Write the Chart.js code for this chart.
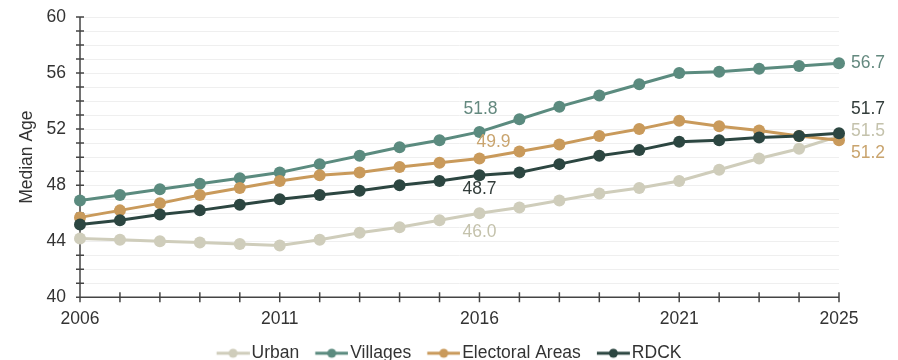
<!DOCTYPE html>
<html>
<head>
<meta charset="utf-8">
<script src="https://cdn.jsdelivr.net/npm/chart.js@4/dist/chart.umd.min.js"></script>
<style>
html, body { margin: 0; padding: 0; background: #fff; overflow: hidden; }
</style>
</head>
<body>
<canvas id="c" width="898" height="372"></canvas>
<script>
const years = ['2006','2007','2008','2009','2010','2011','2012','2013','2014','2015',
               '2016','2017','2018','2019','2020','2021','2022','2023','2024','2025'];
const shownYears = ['2006','2011','2016','2021','2025'];
const urban     = [44.2,44.1,44.0,43.9,43.8,43.7,44.1,44.6,45.0,45.5,46.0,46.4,46.9,47.4,47.8,48.3,49.1,49.9,50.6,51.5];
const villages  = [46.9,47.3,47.7,48.1,48.5,48.9,49.5,50.1,50.7,51.2,51.8,52.7,53.6,54.4,55.2,56.0,56.1,56.3,56.5,56.7];
const electoral = [45.7,46.2,46.7,47.3,47.8,48.3,48.7,48.9,49.3,49.6,49.9,50.4,50.9,51.5,52.0,52.6,52.2,51.9,51.5,51.2];
const rdck      = [45.2,45.5,45.9,46.2,46.6,47.0,47.3,47.6,48.0,48.3,48.7,48.9,49.5,50.1,50.5,51.1,51.2,51.4,51.5,51.7];

const colors = { urban: '#cfcdbb', villages: '#5b8b7f', electoral: '#c99a5b', rdck: '#2c4641' };
const labelColors = ['#c4c2ac', '#64897f', '#c9a46e', '#333d3b'];

Chart.defaults.font.family = '"Liberation Sans", Arial, sans-serif';
Chart.defaults.font.size = 17.5;
Chart.defaults.color = '#333';

// petite icone ligne + point pour la légende
function legendIcon(color) {
    const c = document.createElement('canvas');
    c.width = 40; c.height = 12;
    const g = c.getContext('2d');
    g.strokeStyle = color; g.lineWidth = 3;
    g.beginPath(); g.moveTo(6.9, 6); g.lineTo(39.9, 6); g.stroke();
    g.fillStyle = color;
    g.beginPath(); g.arc(23.4, 6, 4.5, 0, Math.PI * 2); g.fill();
    return c;
}

function series(label, data, color, order) {
    return {
        label, data, order,
        borderColor: color, backgroundColor: color,
        borderWidth: 3, pointRadius: 6, pointHoverRadius: 6,
        pointBorderWidth: 0, pointBackgroundColor: color, tension: 0
    };
}

const datasets = [
    series('Urban', urban, colors.urban, 3),
    series('Villages', villages, colors.villages, 2),
    series('Electoral Areas', electoral, colors.electoral, 1),
    series('RDCK', rdck, colors.rdck, 0)
];
const icons = datasets.map(d => legendIcon(d.borderColor));

// étiquettes de valeurs (dataset, index, décalage)
const labelSpecs = [
    { ds: 1, i: 10, dx: 1,  dy: -23, align: 'center' },
    { ds: 2, i: 10, dx: 14, dy: -16, align: 'center' },
    { ds: 3, i: 10, dx: 0,  dy: 14,  align: 'center' },
    { ds: 0, i: 10, dx: 0,  dy: 19,  align: 'center' },
    { ds: 1, i: 19, dx: 12, dy: 0,   align: 'left' },
    { ds: 3, i: 19, dx: 12, dy: -24, align: 'left' },
    { ds: 0, i: 19, dx: 12, dy: -5,  align: 'left' },
    { ds: 2, i: 19, dx: 12, dy: 13,  align: 'left' }
];

const crossTicks = {
    id: 'crossTicks',
    beforeDatasetsDraw(chart) {
        const { ctx, chartArea: a, scales: { x, y } } = chart;
        ctx.save();
        ctx.strokeStyle = '#444'; ctx.lineWidth = 1.5;
        ctx.beginPath();
        y.ticks.forEach((t, i) => { const py = y.getPixelForTick(i); ctx.moveTo(a.left - 4, py); ctx.lineTo(a.left + 4, py); });
        x.ticks.forEach((t, i) => { const px = x.getPixelForTick(i); ctx.moveTo(px, a.bottom - 5); ctx.lineTo(px, a.bottom + 5); });
        ctx.moveTo(a.left, a.top); ctx.lineTo(a.left, a.bottom); ctx.lineTo(a.right, a.bottom);
        ctx.stroke();
        ctx.restore();
    }
};

const valueLabels = {
    id: 'valueLabels',
    afterDatasetsDraw(chart) {
        const { ctx, scales: { x, y } } = chart;
        ctx.save();
        ctx.font = '17.5px "Liberation Sans", Arial, sans-serif';
        ctx.textBaseline = 'middle';
        labelSpecs.forEach(s => {
            const v = chart.data.datasets[s.ds].data[s.i];
            ctx.fillStyle = labelColors[s.ds];
            ctx.textAlign = s.align;
            ctx.fillText(v.toFixed(1), x.getPixelForValue(s.i) + s.dx, y.getPixelForValue(v) + s.dy);
        });
        ctx.restore();
    }
};

new Chart(document.getElementById('c'), {
    type: 'line',
    data: { labels: years, datasets },
    options: {
        responsive: false, animation: false,
        layout: { padding: { top: 17, left: 0, right: 0, bottom: 0 } },
        plugins: {
            tooltip: { enabled: false },
            legend: {
                position: 'bottom',
                labels: {
                    usePointStyle: true, pointStyleWidth: 26.25, padding: 16, color: '#333',
                    generateLabels: chart => chart.data.datasets.map((d, i) => ({
                        text: d.label, pointStyle: icons[i], fillStyle: d.borderColor,
                        strokeStyle: d.borderColor, lineWidth: 0, datasetIndex: i, hidden: false, fontColor: '#333'
                    }))
                }
            }
        },
        scales: {
            x: {
                offset: false,
                grid: { display: false, drawTicks: false },
                border: { display: false },
                ticks: {
                    autoSkip: false, maxRotation: 0, padding: 11, color: '#333',
                    callback: (v, i) => shownYears.includes(years[i]) ? years[i] : ''
                },
                afterFit(s) { s.height = 31.25; s.paddingLeft = 0; s.paddingRight = 0; }
            },
            y: {
                min: 40, max: 60,
                grid: { color: '#efefef', lineWidth: 1, drawTicks: false },
                border: { display: false },
                ticks: { stepSize: 1, autoSkip: false, padding: 14, color: '#333', callback: v => v % 4 === 0 ? v : '' },
                title: { display: true, text: 'Median Age', color: '#333', padding: { top: 17, bottom: 0 } },
                afterFit(s) { s.width = 80; s.paddingTop = 0; s.paddingBottom = 0; }
            },
            yr: {
                type: 'linear', position: 'right',
                grid: { display: false }, border: { display: false }, ticks: { display: false },
                afterFit(s) { s.width = 59; s.paddingTop = 0; s.paddingBottom = 0; }
            }
        }
    },
    plugins: [crossTicks, valueLabels]
});
</script>
</body>
</html>
